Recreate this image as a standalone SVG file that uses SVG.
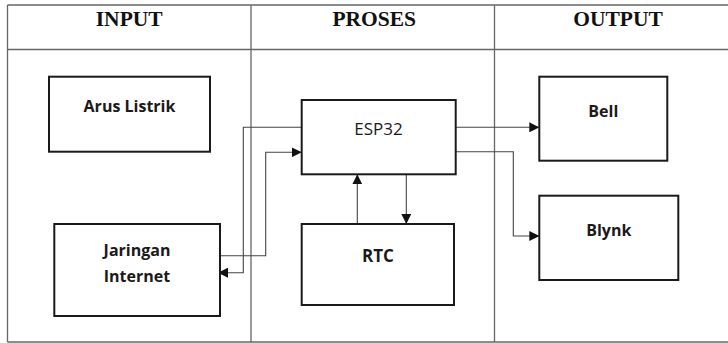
<svg xmlns="http://www.w3.org/2000/svg" width="728" height="343" viewBox="0 0 728 343">
  <style>
    .tbl { stroke: #666; stroke-width: 1.3; fill: none; }
    .hdr { font-family: "Liberation Serif", "Times New Roman", serif; font-weight: bold; font-size: 21.5px; fill: #111; text-anchor: middle; }
    .box { fill: #fff; stroke: #1a1a1a; stroke-width: 2; }
    .lbl { font-family: "Open Sans", "Liberation Sans", sans-serif; font-weight: bold; font-size: 16px; fill: #1a1a1a; text-anchor: middle; }
    .lblr { font-family: "Open Sans", "Liberation Sans", sans-serif; font-size: 17px; fill: #1a1a1a; text-anchor: middle; }
    .conn { fill: none; stroke: #444; stroke-width: 1.1; marker-end: url(#arrow); }
  </style>
  <defs>
    <marker id="arrow" markerUnits="userSpaceOnUse" viewBox="0 0 10 10" refX="10" refY="5" markerWidth="10" markerHeight="10" orient="auto">
      <path d="M0,0 L10,5 L0,10 z" fill="#111"/>
    </marker>
  </defs>
  <rect width="728" height="343" fill="#fff"/>
  <g id="table">
    <line class="tbl" x1="7.5" y1="5" x2="728" y2="5"/>
    <line class="tbl" x1="7.5" y1="49.5" x2="728" y2="49.5"/>
    <line class="tbl" x1="7.5" y1="342" x2="728" y2="342"/>
    <line class="tbl" x1="7.5" y1="5" x2="7.5" y2="342"/>
    <line class="tbl" x1="251" y1="5" x2="251" y2="342"/>
    <line class="tbl" x1="494.5" y1="5" x2="494.5" y2="342"/>
    <text class="hdr" x="129.2" y="26">INPUT</text>
    <text class="hdr" x="374.2" y="26">PROSES</text>
    <text class="hdr" x="618" y="26">OUTPUT</text>
  </g>
  <g id="connectors">
    <path class="conn" d="M301.7,127.3 H243.3 V272.7 H218"/>
    <path class="conn" d="M220,255.7 H265.7 V152.3 H301.7"/>
    <path class="conn" d="M357.3,224 V174.3"/>
    <path class="conn" d="M406.3,174.3 V224"/>
    <path class="conn" d="M455.7,127.3 H539.3"/>
    <path class="conn" d="M455.7,151.7 H513.3 V236 H539.3"/>
  </g>
  <g id="arus-listrik">
    <rect class="box" x="49" y="76.7" width="161" height="75"/>
    <text class="lbl" x="129.5" y="112.3">Arus Listrik</text>
  </g>
  <g id="jaringan-internet">
    <rect class="box" x="54.3" y="224" width="165.7" height="92"/>
    <text class="lbl" x="137" y="255.7">Jaringan</text>
    <text class="lbl" x="137" y="282.3">Internet</text>
  </g>
  <g id="esp32">
    <rect class="box" x="301.7" y="100" width="154" height="74.3"/>
    <text class="lblr" x="378.5" y="135">ESP32</text>
  </g>
  <g id="rtc">
    <rect class="box" x="301.7" y="224" width="152.3" height="81"/>
    <text class="lbl" x="378" y="262.3" style="font-size:17px">RTC</text>
  </g>
  <g id="bell">
    <rect class="box" x="539.3" y="76.7" width="128" height="84"/>
    <text class="lbl" x="603.3" y="116.7">Bell</text>
  </g>
  <g id="blynk">
    <rect class="box" x="539.3" y="195.7" width="139" height="84.3"/>
    <text class="lbl" x="608.8" y="235.7">Blynk</text>
  </g>
</svg>
